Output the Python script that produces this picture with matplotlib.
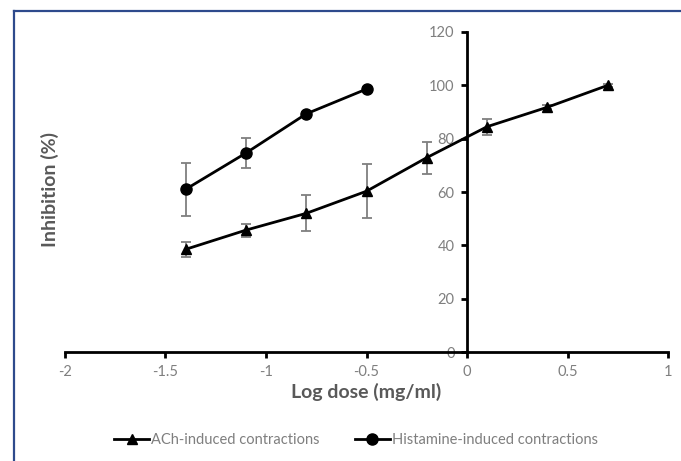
import matplotlib.pyplot as plt
from matplotlib.lines import Line2D

# log dose (mg/ml)
ach_dose = [-1.4, -1.1, -0.8, -0.5, -0.2, 0.1, 0.4, 0.7]
ach_inhib = [38.5, 45.7, 52.0, 60.3, 72.9, 84.5, 91.8, 100.0]
ach_err = [2.7, 2.4, 6.7, 10.2, 6.0, 3.0, 0.8, 0.6]

hist_dose = [-1.4, -1.1, -0.8, -0.5]
hist_inhib = [61.0, 74.6, 89.3, 98.6]
hist_err = [10.0, 5.5, 0.8, 0.9]

grey = '#7f7f7f'
label_grey = '#595959'

plt.rcParams['font.family'] = ['Lato', 'DejaVu Sans']

fig = plt.figure(figsize=(6.81, 4.61), dpi=100)
ax = fig.add_axes([0.0954, 0.2364, 0.8856, 0.6942])

# error bars first, lines + markers on top
ax.errorbar(ach_dose, ach_inhib, yerr=ach_err, fmt='none', ecolor=grey,
            elinewidth=1.3, capsize=3.5, capthick=1.3)
ax.errorbar(hist_dose, hist_inhib, yerr=hist_err, fmt='none', ecolor=grey,
            elinewidth=1.3, capsize=3.5, capthick=1.3)
ax.plot(ach_dose, ach_inhib, color='black', lw=2, marker='^', markersize=7.5,
        label='ACh-induced contractions')
ax.plot(hist_dose, hist_inhib, color='black', lw=2, marker='o', markersize=8,
        label='Histamine-induced contractions')

ax.set_xlim(-2, 1)
ax.set_ylim(0, 120)
ax.set_xticks([-2, -1.5, -1, -0.5, 0, 0.5, 1])
ax.set_xticklabels(['-2', '-1.5', '-1', '-0.5', '0', '0.5', '1'])
ax.set_yticks(range(0, 121, 20))

ax.spines['left'].set_position(('data', 0))
ax.spines['bottom'].set_position(('data', 0))
ax.spines['right'].set_visible(False)
ax.spines['top'].set_visible(False)
for s in ('left', 'bottom'):
    ax.spines[s].set_linewidth(2)
ax.tick_params(direction='out', length=4, width=2, labelsize=10.5,
               labelcolor=grey, pad=5)

ax.set_xlabel('Log dose (mg/ml)', fontsize=14, fontweight='bold',
              color=label_grey, labelpad=3)
fig.text(0.073, 0.588, 'Inhibition (%)', rotation=90, fontsize=14,
         fontweight='bold', color=label_grey, ha='center', va='center')

fig.legend(loc='center', bbox_to_anchor=(0.523, 0.045), ncol=2, frameon=False,
           fontsize=10.5, labelcolor=grey, handlelength=2.4,
           handletextpad=0.15, columnspacing=2.4)

# blue frame around the figure panel (left and top edges visible)
fig.add_artist(Line2D([0.021, 0.021], [0.0, 0.976], color='#2E4A8C', lw=1.6))
fig.add_artist(Line2D([0.021, 1.0], [0.976, 0.976], color='#2E4A8C', lw=1.6))

fig.savefig('out.png', dpi=100)
